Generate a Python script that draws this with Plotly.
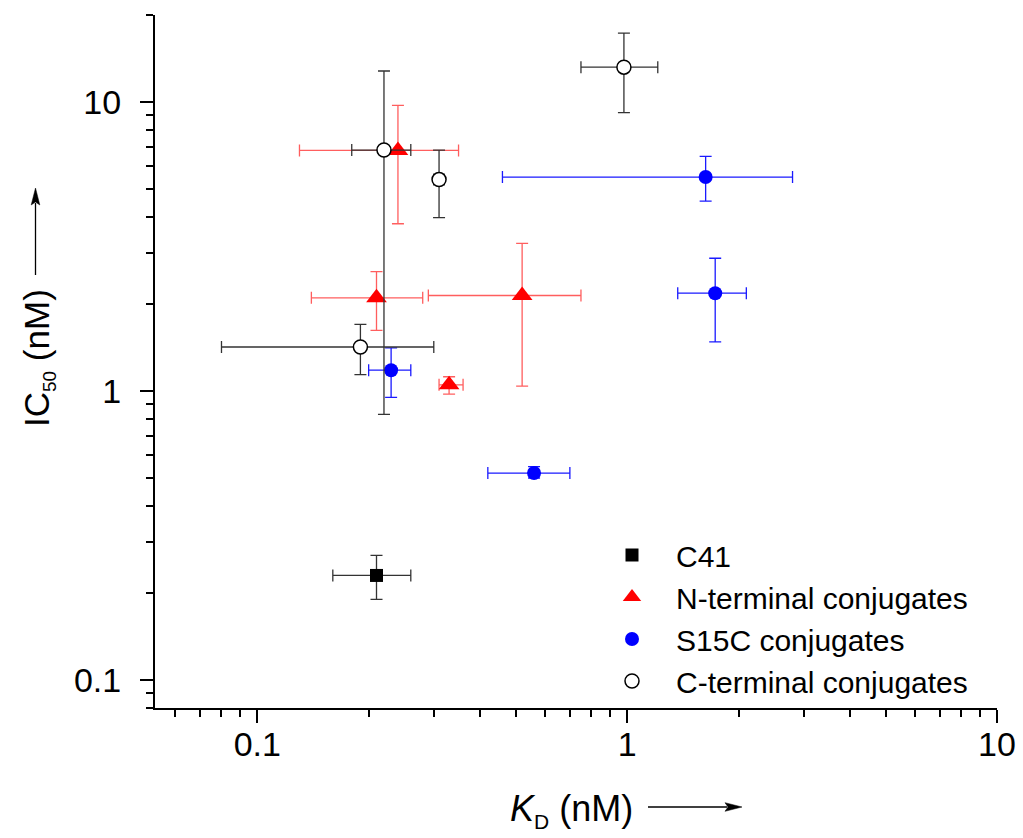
import math
import plotly.graph_objects as go

# ---------------- data ----------------
series_names = ["C41", "N-terminal conjugates", "S15C conjugates", "C-terminal conjugates"]

c41_kd = [0.21]
c41_kd_lo = [0.16]
c41_kd_hi = [0.26]
c41_ic50 = [0.23]
c41_ic50_lo = [0.19]
c41_ic50_hi = [0.27]

nterm_kd = [0.24, 0.21, 0.52, 0.33]
nterm_kd_lo = [0.13, 0.14, 0.29, 0.31]
nterm_kd_hi = [0.35, 0.28, 0.75, 0.36]
nterm_ic50 = [6.8, 2.1, 2.14, 1.05]
nterm_ic50_lo = [3.79, 1.62, 1.04, 0.975]
nterm_ic50_hi = [9.74, 2.59, 3.24, 1.12]

s15c_kd = [1.63, 1.73, 0.23, 0.56]
s15c_kd_lo = [0.46, 1.37, 0.20, 0.42]
s15c_kd_hi = [2.80, 2.10, 0.26, 0.70]
s15c_ic50 = [5.5, 2.18, 1.18, 0.52]
s15c_ic50_lo = [4.54, 1.48, 0.95, 0.50]
s15c_ic50_hi = [6.48, 2.88, 1.41, 0.547]

cterm_kd = [0.98, 0.22, 0.31, 0.19]
cterm_kd_lo = [0.75, 0.18, 0.30, 0.08]
cterm_kd_hi = [1.21, 0.26, 0.32, 0.30]
cterm_ic50 = [13.2, 6.82, 5.39, 1.42]
cterm_ic50_lo = [9.19, 0.83, 3.98, 1.14]
cterm_ic50_hi = [17.3, 12.8, 6.82, 1.70]

x_tick_vals = [0.1, 1, 10]
x_tick_text = ["0.1", "1", "10"]
y_tick_vals = [0.1, 1, 10]
y_tick_text = ["0.1", "1", "10"]
x_minor_vals = [0.05, 0.06, 0.07, 0.08, 0.09, 0.2, 0.3, 0.4, 0.5, 0.6, 0.7, 0.8, 0.9,
                2, 3, 4, 5, 6, 7, 8, 9]
y_minor_vals = [0.08, 0.09, 0.2, 0.3, 0.4, 0.5, 0.6, 0.7, 0.8, 0.9,
                2, 3, 4, 5, 6, 7, 8, 9, 20]

FONT = "Arial, 'Liberation Sans', sans-serif"


def err(v, lo, hi):
    plus = [h - a for a, h in zip(v, hi)]
    minus = [a - l for a, l in zip(v, lo)]
    return plus, minus


def make_trace(name, kd, kd_lo, kd_hi, ic, ic_lo, ic_hi, marker, ecolor):
    xp, xm = err(kd, kd_lo, kd_hi)
    yp, ym = err(ic, ic_lo, ic_hi)
    return go.Scatter(
        x=kd, y=ic, name=name, mode="markers", marker=marker,
        error_x=dict(type="data", symmetric=False, array=xp, arrayminus=xm,
                     color=ecolor, thickness=1.3, width=6),
        error_y=dict(type="data", symmetric=False, array=yp, arrayminus=ym,
                     color=ecolor, thickness=1.3, width=6),
    )


fig = go.Figure()
fig.add_trace(make_trace(series_names[0], c41_kd, c41_kd_lo, c41_kd_hi,
                         c41_ic50, c41_ic50_lo, c41_ic50_hi,
                         dict(symbol="square", size=13, color="black"), "#333333"))
fig.add_trace(make_trace(series_names[1], nterm_kd, nterm_kd_lo, nterm_kd_hi,
                         nterm_ic50, nterm_ic50_lo, nterm_ic50_hi,
                         dict(symbol="triangle-up", size=18, color="#ff0000"),
                         "rgba(255,40,40,0.75)"))
fig.add_trace(make_trace(series_names[2], s15c_kd, s15c_kd_lo, s15c_kd_hi,
                         s15c_ic50, s15c_ic50_lo, s15c_ic50_hi,
                         dict(symbol="circle", size=14, color="#0000ff"), "#1a1aff"))
fig.add_trace(make_trace(series_names[3], cterm_kd, cterm_kd_lo, cterm_kd_hi,
                         cterm_ic50, cterm_ic50_lo, cterm_ic50_hi,
                         dict(symbol="circle", size=14, color="white",
                              line=dict(color="black", width=1.5)), "#333333"))

# The y axis is drawn ~9 px left of the plotting area, so the plotting area
# starts 9 px further right and the x range is trimmed to keep the data in place.
AXIS_OFFSET = 9
L, R, T, B = 146 + AXIS_OFFSET, 26, 15, 130
W, H = 1023, 838
PW, PH = W - L - R, H - T - B
X_DECADE_PX = 369.8
x_range = [math.log10(0.05) + AXIS_OFFSET / X_DECADE_PX, 1.0]


def px2paper_x(px):
    return (px - L) / PW


def px2paper_y(py):
    return (H - B - py) / PH


axis_common = dict(
    type="log", showline=True, linewidth=2, linecolor="black", mirror=False,
    showgrid=False, zeroline=False, ticks="outside", ticklen=13, tickwidth=2,
    tickcolor="black", tickfont=dict(family=FONT, size=34, color="black"),
    tickmode="array", automargin=False,
)

fig.update_xaxes(**axis_common, range=x_range,
                 tickvals=x_tick_vals, ticktext=x_tick_text,
                 ticklabelstandoff=-8,
                 minor=dict(tickmode="array", tickvals=x_minor_vals, ticks="outside",
                            ticklen=7, tickwidth=2, tickcolor="black", showgrid=False))
fig.update_yaxes(**axis_common, range=[-1.09691, 1.30103],
                 tickvals=y_tick_vals, ticktext=y_tick_text,
                 ticklabelstandoff=12,
                 minor=dict(tickmode="array", tickvals=y_minor_vals, ticks="outside",
                            ticklen=7, tickwidth=2, tickcolor="black", showgrid=False))

fig.update_layout(
    width=W, height=H,
    margin=dict(l=L, r=R, t=T, b=B, pad=0, autoexpand=False),
    paper_bgcolor="white", plot_bgcolor="white",
    font=dict(family=FONT, color="black"),
    showlegend=True,
    legend=dict(x=px2paper_x(588), y=px2paper_y(529), xanchor="left", yanchor="top",
                bgcolor="rgba(0,0,0,0)", font=dict(family=FONT, size=30, color="black"),
                itemwidth=78, tracegroupgap=0),
)

# axis titles
fig.add_annotation(text="<i>K</i><sub><span style='font-size:21px'>D</span></sub> (nM)",
                   xref="paper", yref="paper",
                   x=px2paper_x(571.5), y=px2paper_y(810), xanchor="center", yanchor="middle",
                   showarrow=False, font=dict(family=FONT, size=36, color="black"))
fig.add_annotation(text="IC<sub><span style='font-size:19px'>50</span></sub> (nM)",
                   xref="paper", yref="paper",
                   x=px2paper_x(38), y=px2paper_y(358), xanchor="center", yanchor="middle",
                   textangle=-90, showarrow=False,
                   font=dict(family=FONT, size=35, color="black"))


# arrows next to titles (drawn as shapes)
def arrow(x0, y0, x1, y1, head_len=17, half_w=4.3):
    dx, dy = x1 - x0, y1 - y0
    d = math.hypot(dx, dy)
    ux, uy = dx / d, dy / d
    bx, by = x1 - ux * head_len, y1 - uy * head_len
    nx, ny = -uy, ux
    fig.add_shape(type="line", xref="paper", yref="paper",
                  x0=px2paper_x(x0), y0=px2paper_y(y0),
                  x1=px2paper_x(bx + ux * 2), y1=px2paper_y(by + uy * 2),
                  line=dict(color="black", width=1.3))
    pts = [(x1, y1), (bx + nx * half_w, by + ny * half_w), (bx + ux * 3, by + uy * 3),
           (bx - nx * half_w, by - ny * half_w)]
    path = "M " + " L ".join(f"{px2paper_x(px):.5f},{px2paper_y(py):.5f}" for px, py in pts) + " Z"
    fig.add_shape(type="path", xref="paper", yref="paper", path=path,
                  fillcolor="black", line=dict(color="black", width=0.5))


arrow(648, 807, 742, 807)
arrow(35.5, 275, 35.5, 188)

fig.write_html("out.html")
